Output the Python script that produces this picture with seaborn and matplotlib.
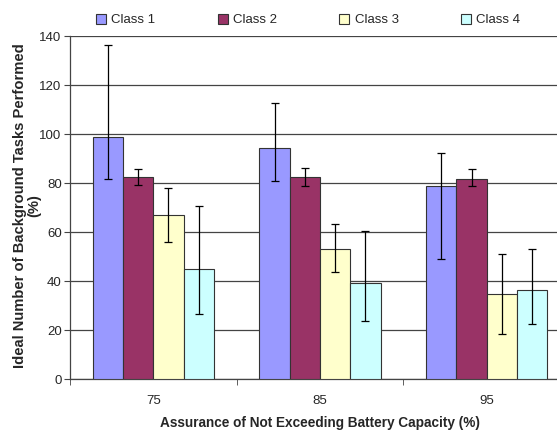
import matplotlib
matplotlib.use("Agg")
import matplotlib.pyplot as plt
import seaborn as sns
import pandas as pd
import numpy as np

groups = ["75", "85", "95"]
classes = ["Class 1", "Class 2", "Class 3", "Class 4"]
colors = ["#9999FF", "#993366", "#FFFFCC", "#CCFFFF"]

# values per class, across groups 75/85/95
class1 = [99.0, 94.2, 78.7]
class2 = [82.3, 82.3, 81.7]
class3 = [66.8, 53.2, 34.6]
class4 = [44.8, 39.1, 36.4]

# error bar ends (lower, upper)
class1_low = [81.5, 80.9, 49.1]
class1_high = [136.2, 112.8, 92.1]
class2_low = [79.3, 78.7, 78.7]
class2_high = [85.7, 86.3, 85.7]
class3_low = [55.8, 43.7, 18.5]
class3_high = [78.0, 63.3, 51.3]
class4_low = [26.6, 23.9, 22.4]
class4_high = [70.7, 60.5, 53.2]

values = [class1, class2, class3, class4]
lows = [class1_low, class2_low, class3_low, class4_low]
highs = [class1_high, class2_high, class3_high, class4_high]

rows = []
for c, vals in zip(classes, values):
    for g, v in zip(groups, vals):
        rows.append({"group": g, "cls": c, "value": v})
df = pd.DataFrame(rows)

sns.set_style("white")
plt.rcParams["font.family"] = ["Liberation Sans", "DejaVu Sans"]

fig = plt.figure(figsize=(5.57, 4.34), dpi=100)
ax = fig.add_axes([70/557, (434-379.3)/434, 500/557, (379.3-36)/434])

sns.barplot(data=df, x="group", y="value", hue="cls", order=groups,
            hue_order=classes, palette=colors, width=0.727, gap=0,
            edgecolor="#333333", linewidth=0.8, errorbar=None, ax=ax,
            legend=False, saturation=1, zorder=3)

for cont, vals, lo, hi in zip(ax.containers, values, lows, highs):
    xs = [b.get_x() + b.get_width()/2 for b in cont]
    v = np.array(vals); l = np.array(lo); h = np.array(hi)
    ax.errorbar(xs, v, yerr=[v - l, h - v], fmt="none", ecolor="black",
                elinewidth=0.9, capsize=2.8, capthick=0.9, zorder=4)

ax.set_ylim(0, 140)
ax.set_xlim(-0.5, 2.5)
ax.set_yticks(np.arange(0, 141, 20))
ax.yaxis.grid(True, color="#444444", linewidth=0.9, zorder=0)
ax.set_axisbelow(True)
for s in ["top", "right"]:
    ax.spines[s].set_visible(False)
for s in ["left", "bottom"]:
    ax.spines[s].set_color("#444444")
    ax.spines[s].set_linewidth(0.9)

ax.set_xticks([0.5 * i - 0.5 for i in range(0, 7, 2)], minor=True)
ax.tick_params(axis="x", which="major", length=0, labelsize=9.5, pad=11)
ax.tick_params(axis="x", which="minor", length=4, direction="out", color="#444444", bottom=True)
ax.tick_params(axis="y", length=4, direction="out", labelsize=9.5, color="#444444", left=True, pad=2)

ax.set_xlabel("Assurance of Not Exceeding Battery Capacity (%)", fontsize=9.8,
              fontweight="bold", labelpad=7)
ax.set_ylabel("Ideal Number of Background Tasks Performed\n(%)", fontsize=10.6,
              fontweight="bold", linespacing=1.0)
ax.yaxis.set_label_coords(-0.058, 0.505)

from matplotlib.patches import Patch
handles = [Patch(facecolor=c, edgecolor="#333333", linewidth=0.8) for c in colors]
fig.legend(handles, classes, loc="center", bbox_to_anchor=(0.553, 1 - 20/434),
           ncol=4, frameon=False, fontsize=9.5, handlelength=0.75, handleheight=0.8,
           columnspacing=4.74, handletextpad=0.4)

fig.savefig("out.png", dpi=100)
